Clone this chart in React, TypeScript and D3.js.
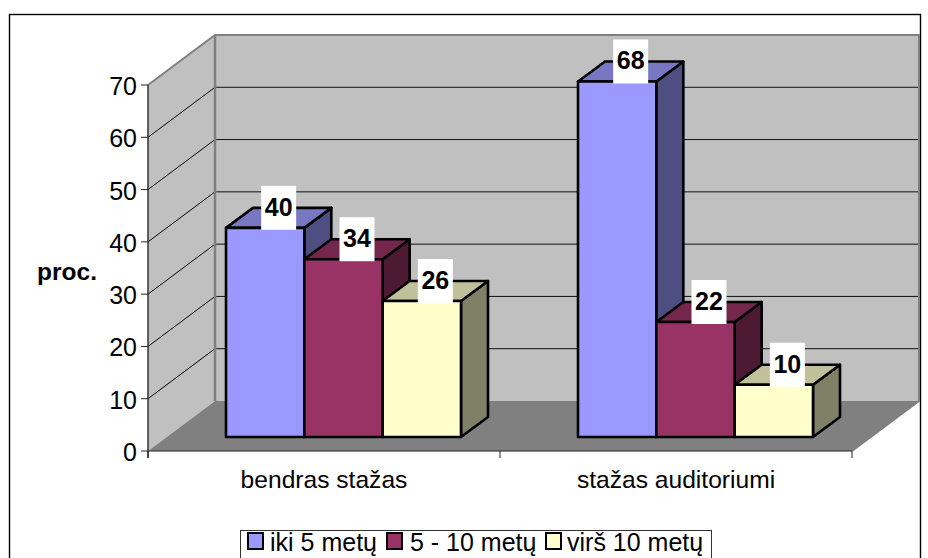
import React from "react";
import * as d3 from "d3";

const categories = ["bendras stažas", "stažas auditoriumi"];
const seriesNames = ["iki 5 metų", "5 - 10 metų", "virš 10 metų"];
const seriesA = [40, 68];
const seriesB = [34, 22];
const seriesC = [26, 10];
const yTicks = [0, 10, 20, 30, 40, 50, 60, 70];
const front = ["#9999ff", "#993366", "#ffffcc"];
const topFace = ["#7878c2", "#74264d", "#c0c09a"];
const sideFace = ["#4e4e82", "#4d1a33", "#808066"];
const legendSwatchX = [248, 387, 546];
const legendTextX = [270, 410, 567];

const FONT = "'Liberation Sans', Arial, sans-serif";
const plotL = 148, plotR = 852, y0 = 451, y70 = 85;
const wallDx = 67, wallDy = -50;
const barDx = 27, barDy = -20, barBase = 14;

const y = d3.scaleLinear().domain([0, 70]).range([y0, y70]);
const xCat = d3.scaleBand<string>().domain(categories).range([plotL, plotR]);
const xBar = d3.scaleBand<string>().domain(seriesNames).range([78, 313]);
const pts = (a: number[][]) => a.map((p) => p.join(",")).join(" ");

export default function App() {
  const all = [seriesA, seriesB, seriesC];
  const yb = y(0) + wallDy;
  const yt = y(70) + wallDy;
  const bars: React.ReactNode[] = [];
  const labels: React.ReactNode[] = [];
  categories.forEach((c, ci) => {
    seriesNames.forEach((s, si) => {
      const v = all[si][ci];
      const x0 = (xCat(c) as number) + (xBar(s) as number);
      const w = xBar.bandwidth();
      const top = y(v) - barBase;
      const bot = y(0) - barBase;
      const stroke = { stroke: "#000", strokeWidth: 2.6, strokeLinejoin: "round" as const };
      bars.push(
        <g key={c + s}>
          <polygon points={pts([[x0 + w, top], [x0 + w + barDx, top + barDy], [x0 + w + barDx, bot + barDy], [x0 + w, bot]])} fill={sideFace[si]} {...stroke} />
          <polygon points={pts([[x0, top], [x0 + barDx, top + barDy], [x0 + w + barDx, top + barDy], [x0 + w, top]])} fill={topFace[si]} {...stroke} />
          <rect x={x0} y={top} width={w} height={bot - top} fill={front[si]} {...stroke} />
        </g>
      );
      const lx = x0 + w / 2 + barDx / 2;
      const ly = top + barDy;
      labels.push(
        <g key={"l" + c + s}>
          <rect x={lx - 17.5} y={ly - 22} width={35} height={44} fill="#fff" />
          <text x={lx} y={ly + 8} textAnchor="middle" fontSize={25} fontWeight="bold" fontFamily={FONT} fill="#000">{v}</text>
        </g>
      );
    });
  });
  return (
    <svg width={928} height={558} style={{ position: "absolute", left: 0, top: 0, background: "#fff" }}>
      <rect x={9.5} y={14.5} width={911} height={560} fill="#fff" stroke="#000" strokeWidth={1.4} />
      <polygon points={pts([[plotL + wallDx, yt], [plotR + wallDx, yt], [plotR + wallDx, yb], [plotL + wallDx, yb]])} fill="#c0c0c0" />
      <polygon points={pts([[plotL, y70], [plotL + wallDx, yt], [plotL + wallDx, yb], [plotL, y0]])} fill="#c0c0c0" />
      <polygon points={pts([[plotL, y0], [plotR, y0], [plotR + wallDx, yb], [plotL + wallDx, yb]])} fill="#808080" />
      {yTicks.filter((t) => t > 0 && t < 70).map((t) => (
        <g key={t}>
          <line x1={plotL} y1={y(t)} x2={plotL + wallDx} y2={y(t) + wallDy} stroke="#000" strokeWidth={1} />
          <line x1={plotL + wallDx} y1={y(t) + wallDy} x2={plotR + wallDx} y2={y(t) + wallDy} stroke="#111" strokeWidth={1} />
        </g>
      ))}
      <polyline points={pts([[plotL, y70], [plotL + wallDx, yt], [plotR + wallDx, yt], [plotR + wallDx, yb], [plotR, y0]])} fill="none" stroke="#808080" strokeWidth={2} />
      <line x1={plotL + wallDx} y1={yt} x2={plotL + wallDx} y2={yb} stroke="#808080" strokeWidth={2.5} />
      <line x1={plotL} y1={y0} x2={plotR} y2={y0} stroke="#222" strokeWidth={1.2} />
      <line x1={plotL} y1={y70} x2={plotL} y2={y0 + 7} stroke="#333" strokeWidth={1.5} />
      {categories.concat("").map((c, i) => {
        const tx = plotL + i * xCat.bandwidth();
        return <line key={i} x1={tx} y1={y0} x2={tx} y2={y0 + 7} stroke="#222" strokeWidth={1} />;
      })}
      {yTicks.map((t) => (
        <g key={t}>
          <line x1={plotL - 7} y1={y(t)} x2={plotL} y2={y(t)} stroke="#222" strokeWidth={1} />
          <text x={137} y={y(t) + 10} textAnchor="end" fontSize={25} fontFamily={FONT} fill="#000">{t}</text>
        </g>
      ))}
      {bars}
      {labels}
      {categories.map((c) => (
        <text key={c} x={(xCat(c) as number) + xCat.bandwidth() / 2} y={488} textAnchor="middle" fontSize={24.6} fontFamily={FONT} fill="#000">{c}</text>
      ))}
      <text x={67} y={280} textAnchor="middle" fontSize={24.5} fontWeight="bold" fontFamily={FONT} fill="#000">proc.</text>
      <rect x={240.5} y={530.5} width={471} height={40} fill="#fff" stroke="#333" strokeWidth={1} />
      {seriesNames.map((s, i) => (
        <g key={s}>
          <rect x={legendSwatchX[i]} y={533} width={15} height={16} fill={front[i]} stroke="#000" strokeWidth={2} />
          <text x={legendTextX[i]} y={551} fontSize={25} fontFamily={FONT} fill="#000">{s}</text>
        </g>
      ))}
    </svg>
  );
}
